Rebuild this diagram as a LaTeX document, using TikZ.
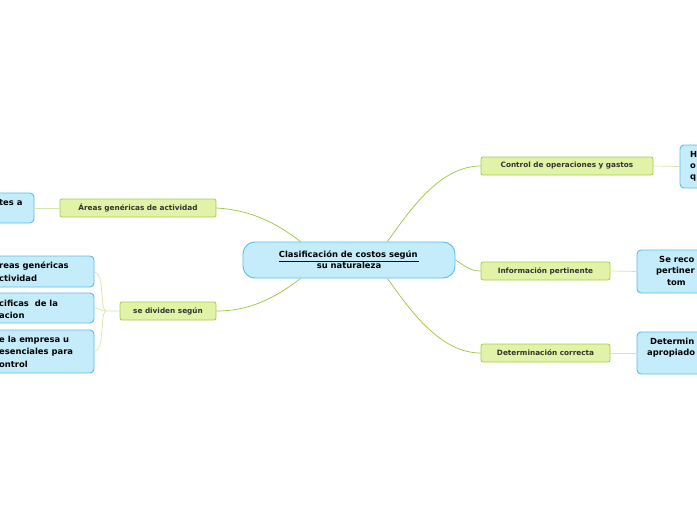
\documentclass[tikz,border=0pt]{standalone}
\usepackage{fontspec}
\setmainfont{DejaVu Sans}
\begin{document}
\begin{tikzpicture}[x=1pt,y=-1pt,
  gbox/.style={draw=grB,fill=grF,rounded corners=2pt,line width=0.8pt,font=\bfseries\fontsize{7.3}{8}\selectfont,text=black!80,inner sep=0pt,minimum height=18pt},
  bbox/.style={draw=blB,fill=blF,rounded corners=4pt,line width=0.9pt,inner sep=0pt},
  btxt/.style={font=\bfseries\fontsize{8.4}{11.5}\selectfont,inner sep=0pt,anchor=west},
  main/.style={draw=olC,line width=0.7pt},
  sub/.style={draw=ltC,line width=0.7pt}]
\definecolor{grF}{HTML}{E1F3A6}\definecolor{grB}{HTML}{A5CC4C}
\definecolor{blF}{HTML}{C5ECFB}\definecolor{blB}{HTML}{59BDE9}
\definecolor{olC}{HTML}{9BC43A}\definecolor{ltC}{HTML}{D5E8A8}
\useasboundingbox (0,0) rectangle (697,520);
\clip (0,0) rectangle (697,520);
% central
\node[bbox,rounded corners=12pt,minimum width=212pt,minimum height=36pt,font=\bfseries\fontsize{8.4}{11}\selectfont,align=center] (c) at (349,260) {\underline{Clasificación de costos según\,}\\su naturaleza};
% green
\node[gbox,minimum width=156pt] (a) at (138,208) {Áreas genéricas de actividad};
\node[gbox,minimum width=96pt] (s) at (168,311) {se dividen según};
\node[gbox,minimum width=172pt] (k) at (567,166) {Control de operaciones y gastos};
\node[gbox,minimum width=129pt] (i) at (545.5,271) {Información pertinente};
\node[gbox,minimum width=129pt] (d) at (545.5,353) {Determinación correcta};
% blue left
\node[bbox,minimum width=100pt,minimum height=30pt] (b1) at (-16,208) {};
\node[bbox,minimum width=160pt,minimum height=31pt] (b2) at (14,271.5) {};
\node[bbox,minimum width=160pt,minimum height=30pt] (b3) at (14,308) {};
\node[bbox,minimum width=160pt,minimum height=43pt] (b4) at (14,351.5) {};
\node[btxt] (t1) at (-1,203) {tes a};
\node[btxt] (t2) at (-1,266) {reas genéricas};
\node[btxt] (t3) at (-1,278) {ctividad};
\node[btxt] (t4) at (-1,303) {cificas\ \ de la};
\node[btxt] (t5) at (-1,315) {acion};
\node[btxt] (t6) at (-1,340) {e la empresa u};
\node[btxt] (t7) at (-1,352) {esenciales para};
\node[btxt] (t8) at (-1,364) {ontrol};
% blue right
\node[bbox,minimum width=100pt,minimum height=43pt] (b5) at (730,166.5) {};
\node[bbox,minimum width=140pt,minimum height=43pt] (b6) at (707,271.5) {};
\node[bbox,minimum width=140pt,minimum height=42pt] (b7) at (707,353) {};
\node[btxt] (r1) at (690,154) {H};
\node[btxt] (r2) at (690,166) {o};
\node[btxt] (r3) at (690,178) {q};
\node[btxt] (r4) at (659,259) {Se reco};
\node[btxt] (r5) at (656,271) {pertiner};
\node[btxt] (r6) at (667,283) {tom};
\node[btxt] (r7) at (650,341) {Determin};
\node[btxt] (r8) at (647,353) {apropiado};
% connectors
\draw[main] (c.north west)++(58,0) coordinate (c1) (c1) .. controls (275,222) and (250,210) .. (a.east);
\draw[main] (c.south west)++(58,0) coordinate (c2) (c2) .. controls (275,298) and (250,311) .. (s.east);
\draw[main] (c.north east)++(-68,0) coordinate (c3) (c3) .. controls (410,210) and (440,166) .. (k.west);
\draw[main] (c.east) .. controls (465,266) and (470,271) .. (i.west);
\draw[main] (c.south east)++(-68,0) coordinate (c4) (c4) .. controls (410,310) and (440,353) .. (d.west);
\draw[sub] (a.west) -- (b1.east);
\draw[sub] (k.east) -- (b5.west);
\draw[sub] (i.east) -- (b6.west);
\draw[sub] (d.east) -- (b7.west);
\draw[sub] (s.west) -- (106,311) .. controls (100,311) and (105,275) .. (b2.east);
\draw[sub] (106,311) .. controls (100,311) and (100,308) .. (b3.east);
\draw[sub] (106,311) .. controls (100,311) and (105,351) .. (b4.east);
\end{tikzpicture}
\end{document}
